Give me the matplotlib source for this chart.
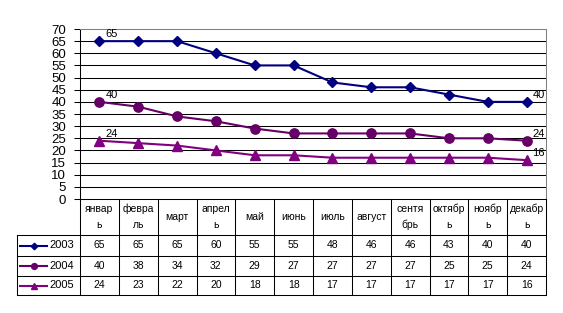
import matplotlib
matplotlib.use("Agg")
import matplotlib.pyplot as plt

plt.rcParams['font.family'] = ['Liberation Sans', 'DejaVu Sans']

months = ["январ\nь", "февра\nль", "март", "апрел\nь", "май", "июнь", "июль",
          "август", "сентя\nбрь", "октябр\nь", "ноябр\nь", "декабр\nь"]
series_names = ["2003", "2004", "2005"]
v2003 = [65, 65, 65, 60, 55, 55, 48, 46, 46, 43, 40, 40]
v2004 = [40, 38, 34, 32, 29, 27, 27, 27, 27, 25, 25, 24]
v2005 = [24, 23, 22, 20, 18, 18, 17, 17, 17, 17, 17, 16]
yticks = list(range(0, 71, 5))

series = [v2003, v2004, v2005]
colors = ['#000080', '#660066', '#800080']
markers = ['D', 'o', '^']
msizes = [5.3, 6.7, 7.3]
leg_ms = [3.3, 4.2, 4.8]

W, H = 563, 313
fig = plt.figure(figsize=(W / 100, H / 100), dpi=100)

# main plot
ax = fig.add_axes([80 / W, 1 - 199 / H, 466 / W, 170 / H])
x = list(range(len(months)))
ax.set_xlim(-0.5, len(months) - 0.5)
ax.set_ylim(0, 70)
for t in yticks:
    if 0 < t < 70:
        ax.axhline(t, color='black', lw=0.75, zorder=1)
for s, c, m, ms in zip(series, colors, markers, msizes):
    ax.plot(x, s, color=c, lw=1.5, marker=m, ms=ms, zorder=3, clip_on=False)
    ax.annotate(str(s[0]), (x[0], s[0]), xytext=(6, 2), textcoords='offset pixels',
                ha='left', va='bottom', fontsize=8)
    ax.annotate(str(s[-1]), (x[-1], s[-1]), xytext=(6, 2), textcoords='offset pixels',
                ha='left', va='bottom', fontsize=8)
ax.set_yticks(yticks)
ax.set_yticklabels([str(t) for t in yticks], fontsize=9.5)
ax.tick_params(axis='y', length=4, width=0.75, pad=6, colors='black')
ax.set_xticks([])
for side in ['top', 'right']:
    ax.spines[side].set_color('#808080')
    ax.spines[side].set_linewidth(0.75)
for side in ['left', 'bottom']:
    ax.spines[side].set_color('black')
    ax.spines[side].set_linewidth(0.75)

# data table
colw = 466 / 12
legw = 63 / colw
tax = fig.add_axes([17 / W, 1 - 295 / H, 529 / W, 96 / H])
xl = -0.5 - legw
tax.set_xlim(xl, 11.5)
tax.set_ylim(96, 0)
tax.axis('off')
rows_y = [0, 36, 57, 77, 96]
kw = dict(color='black', lw=0.75, clip_on=False)
for k in range(13):
    tax.plot([k - 0.5, k - 0.5], [0, 96], **kw)
tax.plot([xl, xl], [36, 96], **kw)
for yy in rows_y[1:]:
    tax.plot([xl, 11.5], [yy, yy], **kw)
for i, mth in enumerate(months):
    tax.text(i, 18, mth, ha='center', va='center', fontsize=7.5, linespacing=1.7)
for r, (s, name, c, m, lm) in enumerate(zip(series, series_names, colors, markers, leg_ms)):
    yc = (rows_y[r + 1] + rows_y[r + 2]) / 2
    for i, v in enumerate(s):
        tax.text(i, yc, str(v), ha='center', va='center', fontsize=7.5)
    x0 = xl + 3 / colw
    x1 = xl + 30 / colw
    tax.plot([x0, x1], [yc, yc], color=c, lw=1.5, clip_on=False)
    tax.plot([(x0 + x1) / 2], [yc], marker=m, color=c, ms=lm, clip_on=False)
    tax.text(xl + 32 / colw, yc, name, ha='left', va='center', fontsize=8)

fig.savefig('out.png', dpi=100)
